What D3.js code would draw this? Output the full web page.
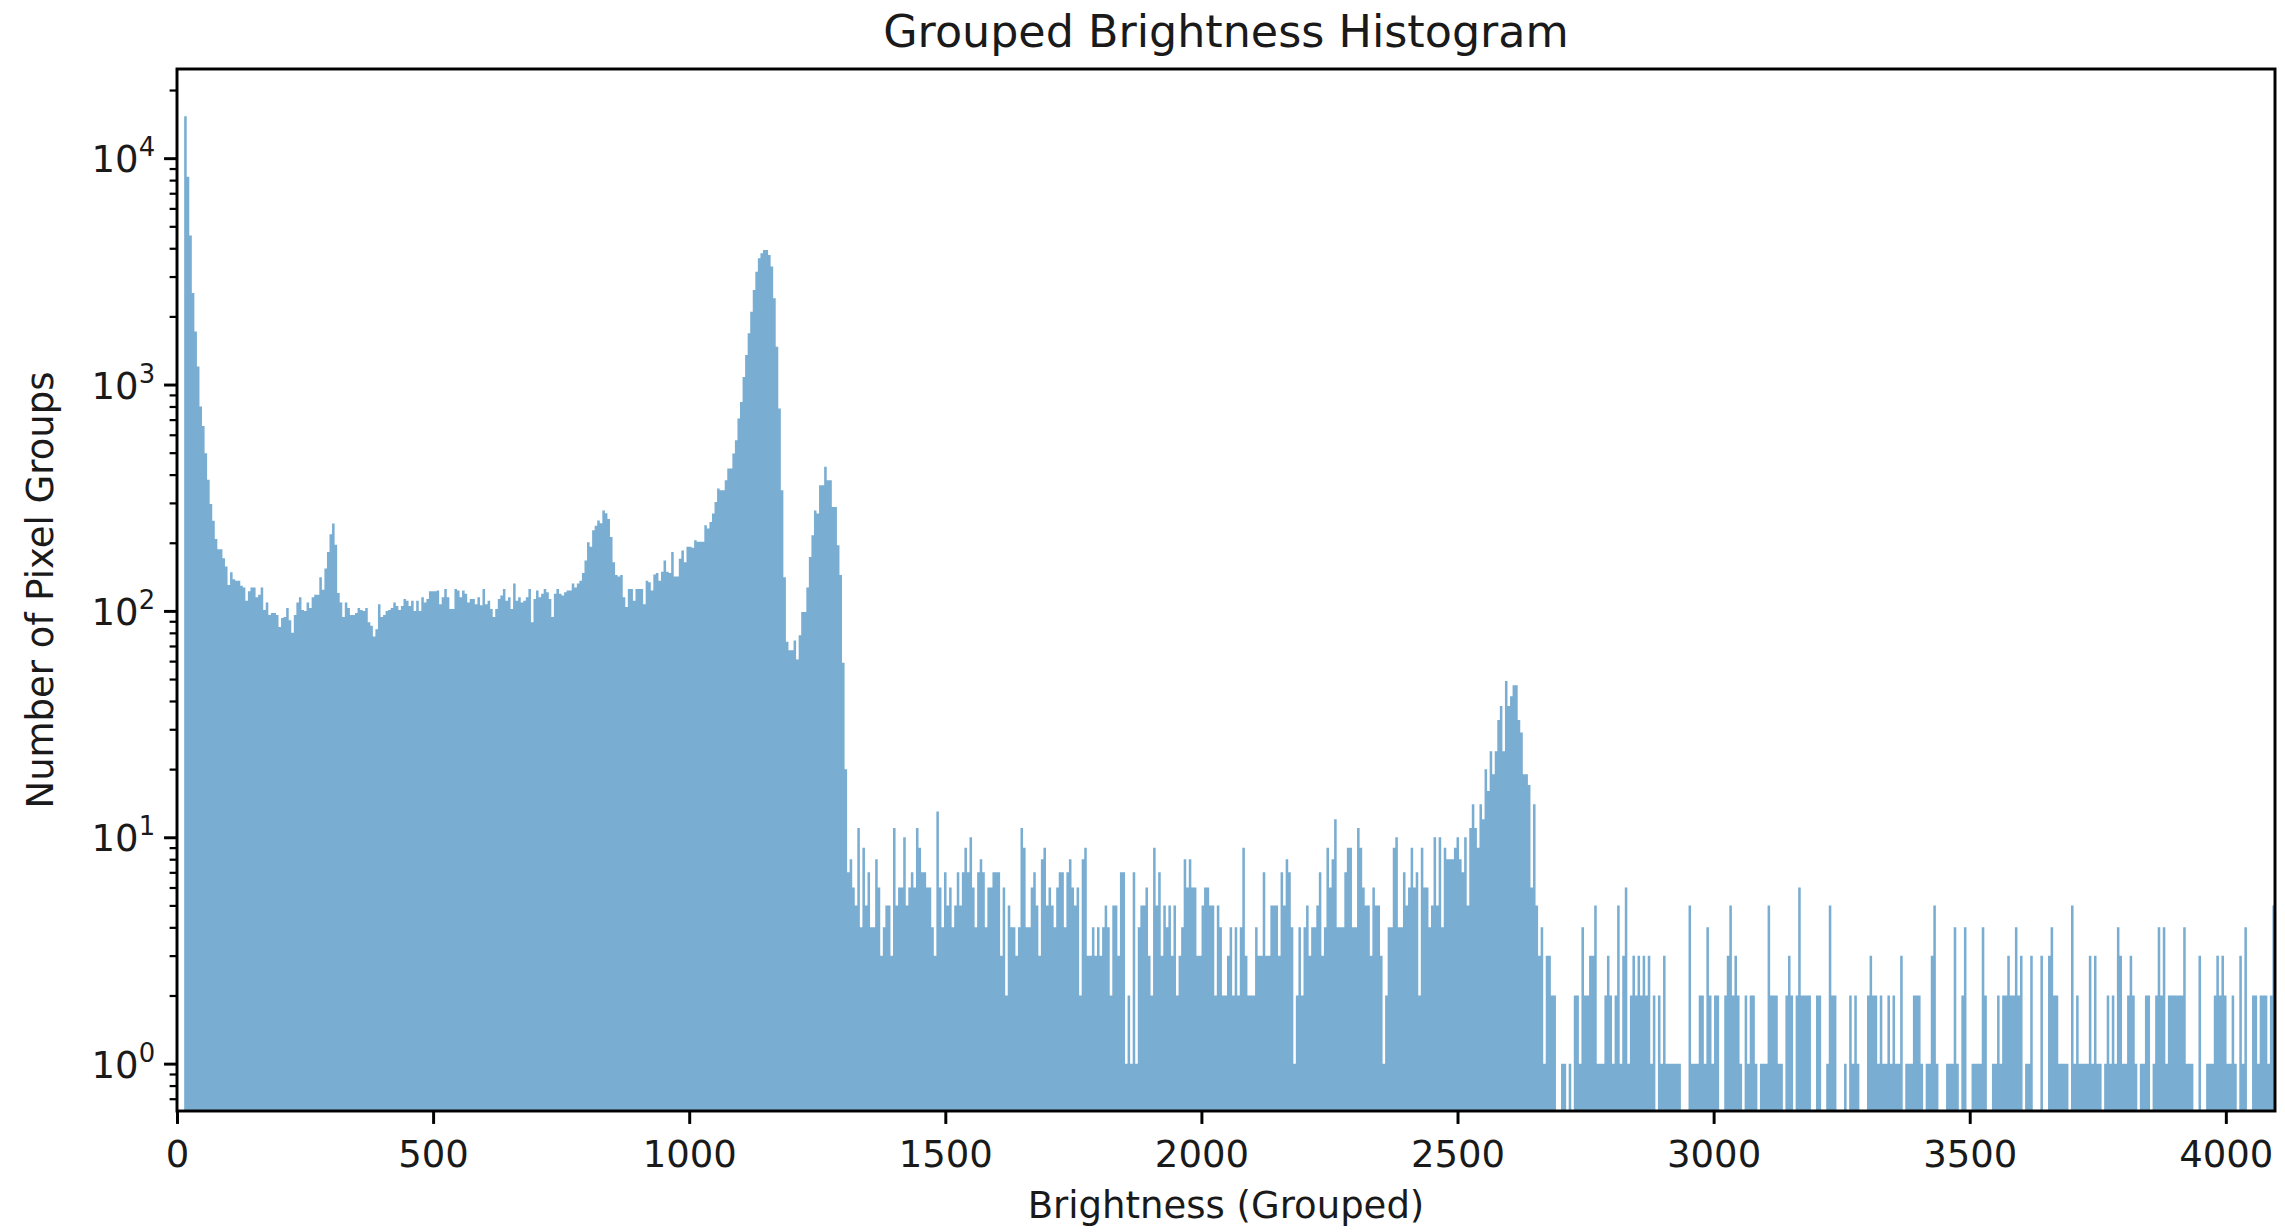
<!DOCTYPE html>
<html>
<head>
<meta charset="utf-8">
<script src="https://cdn.jsdelivr.net/npm/d3@7"></script>
<style>
  html, body { margin: 0; padding: 0; background: #ffffff; }
  svg { display: block; }
  text { font-family: "DejaVu Sans", sans-serif; fill: #1a1a1a; }
</style>
</head>
<body>
<svg id="chart" width="2285" height="1232"></svg>
<script>
// Histogram bins: equal-width groups of brightness values
const binStart = 14;
const binWidth = 4.978;

// Counts per bin, split by brightness range
const countsShadow = [
  15300, 8280, 4550, 2540, 1715, 1200, 800, 656, 497, 380,
  297, 250, 208, 187, 187, 171, 157, 130, 148, 138,
  136, 136, 129, 127, 111, 122, 127, 127, 115, 118,
  127, 101, 109, 96, 98, 98, 96, 85, 93, 94,
  103, 91, 80, 96, 109, 115, 101, 100, 109, 103,
  115, 118, 118, 141, 124, 154, 182, 218, 243, 196,
  120, 109, 94, 109, 103, 96, 96, 98, 103, 101,
  100, 103, 89, 86, 77, 83, 107, 94, 96, 100,
  101, 103, 109, 105, 101, 105, 113, 111, 105, 111,
  100, 111, 100, 115, 109, 113, 122, 122, 122, 123
];
const countsLowMid = [
  107, 115, 125, 115, 102, 102, 125, 123, 115, 123,
  119, 109, 113, 113, 107, 115, 106, 125, 107, 111,
  102, 94, 102, 113, 117, 125, 111, 115, 102, 132,
  111, 115, 109, 111, 115, 125, 89, 113, 123, 115,
  119, 125, 121, 113, 94, 119, 125, 119, 117, 121,
  123, 123, 132, 127, 132, 136, 147, 167, 201, 192,
  227, 238, 251, 244, 278, 270, 255, 212, 164, 144,
  142, 144, 115, 104, 125, 125, 111, 125, 125, 125,
  107, 136, 134, 123, 145, 147, 136, 149, 167, 149,
  147, 182, 142, 142, 170, 185, 164, 192, 192, 190
];
const countsMainPeak = [
  205, 202, 202, 202, 239, 231, 247, 269, 303, 347,
  341, 341, 378, 426, 426, 496, 568, 708, 838, 1081,
  1349, 1683, 2099, 2617, 3150, 3612, 3800, 3930, 3930, 3735,
  3320, 2404, 1468, 784, 341, 141, 73, 67, 67, 74,
  61, 78, 99, 99, 127, 173, 216, 278, 269, 359,
  359, 433, 378, 378, 288, 288, 195, 144, 59, 20
];
const countsPlateau = [
  7, 8, 6, 5, 11, 4, 9, 5, 7, 4,
  4, 8, 6, 3, 4, 5, 5, 3, 11, 5,
  6, 6, 10, 5, 6, 7, 6, 11, 9, 7,
  7, 6, 6, 4, 3, 13, 6, 4, 7, 5,
  6, 4, 5, 7, 5, 7, 9, 7, 10, 6,
  4, 7, 8, 7, 4, 6, 6, 7, 7, 7,
  3, 6, 2, 5, 4, 4, 3, 4, 11, 9,
  4, 4, 6, 7, 5, 3, 8, 9, 5, 6,
  5, 4, 6, 7, 7, 4, 7, 8, 6, 5,
  6, 2, 8, 9, 3, 3, 4, 3, 4, 3,
  4, 5, 4, 2, 5, 5, 3, 7, 7, 1,
  2, 1, 7, 1, 4, 5, 5, 6, 3, 2,
  9, 5, 7, 3, 5, 4, 5, 3, 5, 2,
  3, 4, 8, 6, 8, 6, 6, 3, 3
];
const countsUpperMid = [
  5, 6, 6, 5, 5, 2, 5, 4, 2, 2,
  3, 4, 2, 4, 2, 4, 9, 3, 2, 2,
  2, 4, 3, 3, 7, 3, 3, 5, 5, 5,
  3, 7, 5, 8, 7, 4, 1, 2, 4, 2,
  4, 5, 3, 4, 4, 5, 7, 3, 4, 9,
  6, 8, 12, 4, 4, 4, 7, 9, 9, 4,
  4, 11, 9, 6, 5, 5, 3, 6, 5, 5,
  3, 1, 2, 4, 4, 9, 10, 4
];
const countsHighPeak = [
  4, 7, 5, 6, 9, 6, 7, 2, 9, 6,
  6, 4, 5, 10, 5, 10, 4, 9, 8, 8,
  8, 9, 10, 8, 7, 10, 5, 11, 14, 11,
  9, 14, 12, 20, 16, 24, 19, 24, 33, 38,
  24, 49, 38, 42, 47, 47, 33, 29, 19, 19,
  17, 6, 14, 5, 3, 4, 1, 3, 3, 2,
  2, 0, 0, 1, 1, 0, 1, 0, 2, 2,
  1, 4, 2, 2, 3, 3, 5, 1, 1, 1,
  2, 3, 2, 1, 2, 5, 1, 3, 6, 1,
  2, 3, 2, 3, 2, 3, 2, 3, 1, 2,
  0, 2, 1, 3, 1, 1, 1, 1, 1, 1,
  0, 0, 0, 5, 1, 1, 1, 2, 2, 1,
  4, 2, 1, 2, 2, 0, 0, 2, 3, 5,
  2, 3, 2, 1, 0, 2, 1, 2, 2, 1,
  0, 1, 1, 1, 5, 2, 2, 2, 1, 1,
  0, 2, 3, 2, 0, 2, 6
];
const countsTailA = [
  2, 2, 2, 2, 0, 0, 2, 2, 0, 0,
  1, 5, 2, 2, 0, 0, 0, 1, 0, 2,
  1, 2, 1, 0, 0, 0, 2, 3, 2, 2,
  1, 2, 1, 1, 2, 1, 2, 1, 1
];
const countsTailB = [
  3, 0, 1, 1, 1, 2, 2, 2, 1, 0,
  1, 1, 3, 5, 1, 0, 0, 0, 1, 1,
  1, 4, 1, 0, 2, 4, 0, 0, 1, 1,
  1, 1, 4, 2, 0, 0, 1, 1, 2, 1,
  2, 2, 3, 2, 2, 4, 2, 3, 0, 1,
  1, 3, 0, 0, 0, 3, 0, 0, 3, 4,
  2, 2, 1, 1, 1, 1, 0, 5, 1, 2,
  1, 1, 1, 1, 3, 1, 3, 1, 1, 0,
  1, 2, 1, 2, 1, 4, 3, 1, 1, 2,
  3, 2, 1, 0, 1, 1, 2, 2, 0, 1,
  2, 4, 2, 4, 1, 2, 2, 2, 2, 2,
  2, 4, 1, 1, 1, 0, 0, 3, 0, 0,
  1, 1, 1, 2, 3, 2, 3, 2, 1, 1,
  2, 1, 0, 3, 1, 4, 0, 0, 2, 2,
  1, 2, 2, 2, 1, 2, 5
];

const xTickValues = [0, 500, 1000, 1500, 2000, 2500, 3000, 3500, 4000];
const yTickExponents = [0, 1, 2, 3, 4];

const titleText = "Grouped Brightness Histogram";
const xLabelText = "Brightness (Grouped)";
const yLabelText = "Number of Pixel Groups";

const counts = [].concat(countsShadow, countsLowMid, countsMainPeak, countsPlateau,
  countsUpperMid, countsHighPeak, countsTailA, countsTailB);

const bins = counts.map((c, i) => ({
  x0: binStart + i * binWidth,
  x1: binStart + (i + 1) * binWidth,
  count: c
}));

// Layout
const plot = { left: 177, right: 2275, top: 69, bottom: 1111 };
const pt = 3.7;                      // pixels per point
const fontSize = 10 * pt;
const titleSize = 12 * pt;

const svg = d3.select("#chart");

const x = d3.scaleLinear().domain([0, 4096]).range([plot.left, plot.right]);

// log axis limits with 5% margin in decades around [1, max]
const lmax = Math.log10(d3.max(counts));
const margin = 0.05 * lmax;
const y = d3.scaleLog()
  .domain([Math.pow(10, -margin), Math.pow(10, lmax + margin)])
  .range([plot.bottom, plot.top]);

svg.append("defs").append("clipPath").attr("id", "plotClip")
  .append("rect")
  .attr("x", plot.left).attr("y", plot.top)
  .attr("width", plot.right - plot.left).attr("height", plot.bottom - plot.top);

// Bars: each run of adjacent non-empty bins becomes one stepped outline,
// so neighbouring bars share edges without hairline seams
const runs = [];
let run = null;
bins.forEach(b => {
  if (b.count > 0) {
    if (!run) { run = []; runs.push(run); }
    run.push(b);
  } else {
    run = null;
  }
});
const barPath = d3.path();
runs.forEach(r => {
  barPath.moveTo(x(r[0].x0), plot.bottom);
  r.forEach(b => {
    barPath.lineTo(x(b.x0), y(b.count));
    barPath.lineTo(x(b.x1), y(b.count));
  });
  barPath.lineTo(x(r[r.length - 1].x1), plot.bottom);
  barPath.closePath();
});
svg.append("g").attr("clip-path", "url(#plotClip)")
  .append("path")
  .attr("d", barPath.toString())
  .attr("fill", "#1f77b4")
  .attr("fill-opacity", 0.6);

// X axis
const xAxis = svg.append("g")
  .attr("transform", `translate(0,${plot.bottom})`)
  .call(d3.axisBottom(x).tickValues(xTickValues).tickSize(3.5 * pt).tickPadding(3.5 * pt + 3.5)
    .tickFormat(d3.format("d")));
xAxis.select(".domain").remove();
xAxis.selectAll(".tick line").attr("stroke", "#000").attr("stroke-width", 0.8 * pt);
xAxis.selectAll(".tick text").attr("font-size", fontSize).attr("fill", "#1a1a1a")
  .attr("font-family", "DejaVu Sans");

// Y axis: minor ticks
const [ylo, yhi] = y.domain();
const minorValues = [];
for (let k = -1; k <= 4; k++) {
  for (let m = 2; m <= 9; m++) {
    const v = m * Math.pow(10, k);
    if (v >= ylo && v <= yhi) minorValues.push(v);
  }
}
const yMinor = svg.append("g")
  .attr("transform", `translate(${plot.left},0)`)
  .call(d3.axisLeft(y).tickValues(minorValues).tickSize(2 * pt).tickFormat(""));
yMinor.select(".domain").remove();
yMinor.selectAll(".tick line").attr("stroke", "#000").attr("stroke-width", 0.6 * pt);

// Y axis: major ticks with 10^k labels
const yMajor = svg.append("g")
  .attr("transform", `translate(${plot.left},0)`)
  .call(d3.axisLeft(y).tickValues(yTickExponents.map(e => Math.pow(10, e)))
    .tickSize(3.5 * pt).tickPadding(3.5 * pt).tickFormat(""));
yMajor.select(".domain").remove();
yMajor.selectAll(".tick line").attr("stroke", "#000").attr("stroke-width", 0.8 * pt);
yMajor.selectAll(".tick text").each(function (d) {
  const t = d3.select(this)
    .attr("x", -(7 * pt) + 4)
    .attr("dy", null)
    .attr("y", 13.5)
    .attr("font-size", fontSize)
    .attr("font-family", "DejaVu Sans")
    .attr("fill", "#1a1a1a")
    .attr("text-anchor", "end");
  t.append("tspan").text("10");
  t.append("tspan").attr("font-size", fontSize * 0.7).attr("dy", -16)
    .text(String(Math.round(Math.log10(d))));
});

// Spines
svg.append("rect")
  .attr("x", plot.left).attr("y", plot.top)
  .attr("width", plot.right - plot.left).attr("height", plot.bottom - plot.top)
  .attr("fill", "none").attr("stroke", "#000").attr("stroke-width", 0.8 * pt);

// Title and axis labels
const cx = (plot.left + plot.right) / 2;
svg.append("text").attr("x", cx).attr("y", 47).attr("text-anchor", "middle")
  .attr("font-size", titleSize).text(titleText);
svg.append("text").attr("x", cx).attr("y", 1218).attr("text-anchor", "middle")
  .attr("font-size", fontSize).text(xLabelText);
svg.append("text")
  .attr("transform", `translate(53,${(plot.top + plot.bottom) / 2}) rotate(-90)`)
  .attr("text-anchor", "middle")
  .attr("font-size", fontSize).text(yLabelText);
</script>
</body>
</html>
